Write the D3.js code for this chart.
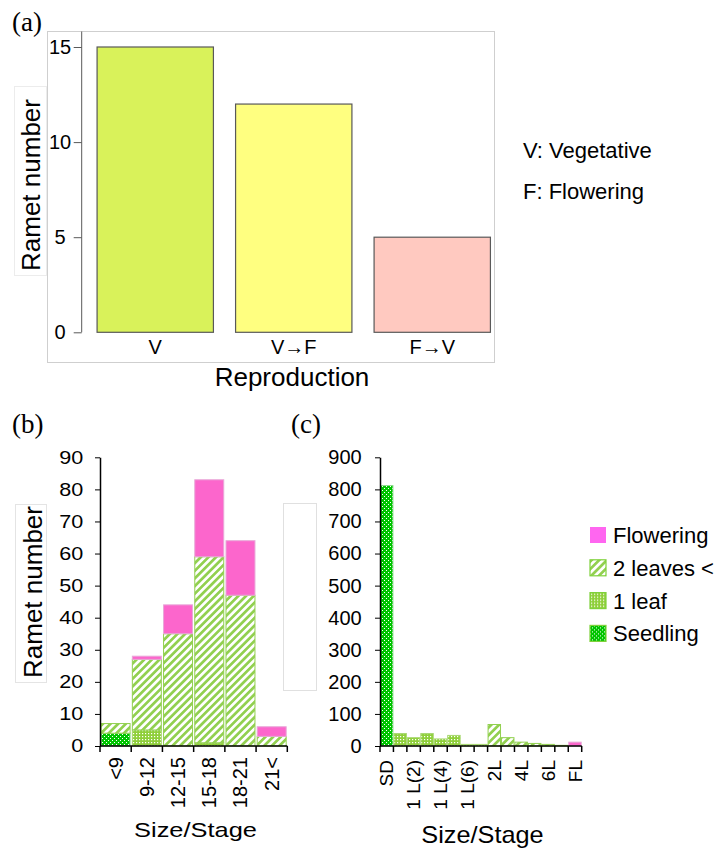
<!DOCTYPE html>
<html>
<head>
<meta charset="utf-8">
<script src="https://cdnjs.cloudflare.com/ajax/libs/d3/7.8.5/d3.min.js"></script>
<style>
	body { margin: 0; background: #fff; }
	text { font-family: 'Liberation Sans', Arial, sans-serif; fill: #000; }
	.tag { font-family: 'Liberation Serif', 'Times New Roman', serif; }
</style>
</head>
<body>
<svg id="fig" width="724" height="848"></svg>
<script>
// (a) reproduction transitions
const reproCats = ['V', 'V→F', 'F→V'];
const reproValues = [15, 12, 5];
const reproColors = ['#d9f25a', '#ffff80', '#ffc9c0'];
const reproTicks = [0, 5, 10, 15];
const reproNotes = ['V: Vegetative', 'F: Flowering'];

// (b) ramets by size class
const sizeCats = ['<9', '9-12', '12-15', '15-18', '18-21', '21<'];
const sizeSeedling = [4, 0, 0, 0, 0, 0];
const sizeOneLeaf = [0, 5, 0, 1, 0, 0];
const sizeTwoLeaves = [3, 22, 35, 58, 47, 3];
const sizeFlowering = [0, 1, 9, 24, 17, 3];
const sizeTicks = [0, 10, 20, 30, 40, 50, 60, 70, 80, 90];

// (c) ramets by stage
const stageCats = ['SD', '1 L(1)', '1 L(2)', '1 L(3)', '1 L(4)', '1 L(5)', '1 L(6)', '1 L(7)',
	'2L', '3L', '4L', '5L', '6L', '7L', 'FL'];
const stageSeedling = [812, 0, 0, 0, 0, 0, 0, 0, 0, 0, 0, 0, 0, 0, 0];
const stageOneLeaf = [0, 39, 26, 39, 22, 33, 5, 5, 0, 0, 0, 0, 0, 0, 0];
const stageTwoLeaves = [0, 0, 0, 0, 0, 0, 0, 0, 67, 26, 12, 8, 5, 2, 0];
const stageFlowering = [0, 0, 0, 0, 0, 0, 0, 0, 0, 0, 0, 0, 0, 0, 12];
const stageTicks = [0, 100, 200, 300, 400, 500, 600, 700, 800, 900];

const seriesKeys = ['seedling', 'oneLeaf', 'twoLeaves', 'flowering'];
const seriesNames = ['Seedling', '1 leaf', '2 leaves <', 'Flowering'];
const seriesFill = {
	seedling: 'url(#seed)',
	oneLeaf: 'url(#leaf1)',
	twoLeaves: 'url(#hatch)',
	flowering: '#fc66cc',
};
const seriesStroke = {
	seedling: '#8fdc8f',
	oneLeaf: '#a9d873',
	twoLeaves: '#92d050',
	flowering: '#e8a8d8',
};

const svg = d3.select('#fig');
svg.append('rect').attr('width', 724).attr('height', 848).attr('fill', '#fff');

// patterns for the stage series
const defs = svg.append('defs');
const hatch = defs.append('pattern')
	.attr('id', 'hatch')
	.attr('patternUnits', 'userSpaceOnUse')
	.attr('width', 5.4).attr('height', 5.4)
	.attr('patternTransform', 'rotate(45)');
hatch.append('rect').attr('width', 5.4).attr('height', 5.4).attr('fill', '#fff');
hatch.append('rect').attr('width', 2.7).attr('height', 5.4).attr('fill', '#92d050');

const leaf1 = defs.append('pattern')
	.attr('id', 'leaf1')
	.attr('patternUnits', 'userSpaceOnUse')
	.attr('width', 3).attr('height', 3);
leaf1.append('rect').attr('width', 3).attr('height', 3).attr('fill', '#8fcf3a');
leaf1.append('rect').attr('x', 1).attr('y', 1).attr('width', 1.2).attr('height', 1.2).attr('fill', '#fff');

const seed = defs.append('pattern')
	.attr('id', 'seed')
	.attr('patternUnits', 'userSpaceOnUse')
	.attr('width', 4).attr('height', 4);
seed.append('rect').attr('width', 4).attr('height', 4).attr('fill', '#00c400');
seed.append('rect').attr('x', 0).attr('y', 0).attr('width', 1).attr('height', 1).attr('fill', '#fff');
seed.append('rect').attr('x', 2).attr('y', 2).attr('width', 1).attr('height', 1).attr('fill', '#fff');

// panel tags
[['(a)', 12, 31], ['(b)', 12, 433], ['(c)', 291, 433]].forEach(([t, x, y]) => {
	svg.append('text').attr('class', 'tag').attr('x', x).attr('y', y)
		.attr('font-size', 27).text(t);
});

// ---------- (a) ----------
function drawRepro() {
	const g = svg.append('g');

	// plot area frame and title box leftovers
	g.append('rect').attr('x', 47.5).attr('y', 31.5).attr('width', 447).attr('height', 331)
		.attr('fill', 'none').attr('stroke', '#cfcfcf');
	g.append('rect').attr('x', 14.5).attr('y', 86.5).attr('width', 32).attr('height', 189)
		.attr('fill', '#fff').attr('stroke', '#ececec');

	const x = d3.scaleBand().domain(reproCats).range([86, 501.5])
		.paddingInner(0.16).paddingOuter(0.08);
	const y = d3.scaleLinear().domain([0, 15]).range([332.3, 47]);

	g.append('g')
		.attr('transform', 'translate(81.7,0)')
		.call(d3.axisLeft(y).tickValues(reproTicks).tickSize(8).tickSizeOuter(0))
		.call((ax) => ax.select('.domain').remove())
		.call((ax) => ax.selectAll('line').attr('stroke', '#595959'))
		.call((ax) => ax.selectAll('text')
			.attr('x', -21.7).attr('text-anchor', 'middle')
			.attr('font-size', 20).attr('font-family', null));
	g.append('line').attr('x1', 81.7).attr('x2', 81.7).attr('y1', 31.5).attr('y2', y(0))
		.attr('stroke', '#595959');

	g.selectAll('.repro-bar')
		.data(reproCats)
		.join('rect')
		.attr('class', 'repro-bar')
		.attr('x', (d) => x(d))
		.attr('width', x.bandwidth())
		.attr('y', (d, i) => y(reproValues[i]))
		.attr('height', (d, i) => y(0) - y(reproValues[i]))
		.attr('fill', (d, i) => reproColors[i])
		.attr('stroke', '#595959')
		.attr('stroke-width', 1.2);

	g.selectAll('.repro-label')
		.data(reproCats)
		.join('text')
		.attr('class', 'repro-label')
		.attr('x', (d) => x(d) + x.bandwidth() / 2)
		.attr('y', 354)
		.attr('text-anchor', 'middle')
		.attr('font-size', 20)
		.text((d) => d);

	g.append('text').attr('x', 292).attr('y', 386).attr('text-anchor', 'middle')
		.attr('font-size', 26).text('Reproduction');
	g.append('text').attr('transform', 'translate(40,185) rotate(-90)')
		.attr('text-anchor', 'middle').attr('font-size', 26).text('Ramet number');

	g.selectAll('.note')
		.data(reproNotes)
		.join('text')
		.attr('class', 'note')
		.attr('x', 523)
		.attr('y', (d, i) => 158 + i * 41)
		.attr('font-size', 22)
		.text((d) => d);
}

// ---------- stacked panels (b) and (c) ----------
function drawStacked(cats, series, opts) {
	const g = svg.append('g');
	const rows = cats.map((c, i) => {
		const row = { cat: c };
		seriesKeys.forEach((k) => (row[k] = series[k][i]));
		return row;
	});
	const stacked = d3.stack().keys(seriesKeys)(rows);

	const x = d3.scaleBand().domain(cats).range(opts.xRange)
		.paddingInner(opts.padIn).paddingOuter(opts.padOut);
	const y = d3.scaleLinear().domain(opts.yDomain).range([746, 457.3]);

	g.selectAll('.layer')
		.data(stacked)
		.join('g')
		.attr('class', 'layer')
		.attr('fill', (s) => seriesFill[s.key])
		.attr('stroke', (s) => seriesStroke[s.key])
		.selectAll('rect')
		.data((s) => s.filter((d) => d[1] - d[0] > 0))
		.join('rect')
		.attr('x', (d) => x(d.data.cat) + 0.5)
		.attr('width', x.bandwidth() - 1)
		.attr('y', (d) => y(d[1]))
		.attr('height', (d) => y(d[0]) - y(d[1]));

	// y axis
	g.append('g')
		.attr('transform', `translate(${opts.xRange[0]},0)`)
		.call(d3.axisLeft(y).tickValues(opts.ticks).tickSize(5).tickSizeOuter(0))
		.call((ax) => ax.select('.domain').attr('stroke-width', 1.5))
		.call((ax) => ax.selectAll('text')
			.attr('x', 0)
			.attr('transform', `translate(${opts.labelGap},0) scale(${opts.tickStretch},1)`)
			.attr('font-size', opts.tickSize).attr('font-family', null));

	// x axis with ticks on category boundaries
	const x0 = opts.xRange[0];
	const bounds = d3.range(cats.length + 1).map((i) => x0 + i * x.step());
	g.append('line').attr('x1', x0).attr('x2', bounds[bounds.length - 1])
		.attr('y1', 746).attr('y2', 746).attr('stroke', '#000').attr('stroke-width', 1.5);
	g.selectAll('.xtick')
		.data(bounds)
		.join('line')
		.attr('class', 'xtick')
		.attr('x1', (d) => d).attr('x2', (d) => d)
		.attr('y1', 746).attr('y2', 752)
		.attr('stroke', '#000').attr('stroke-width', 1.5);

	g.selectAll('.xlabel')
		.data(cats.filter((c, i) => i % opts.labelEvery === 0))
		.join('text')
		.attr('class', 'xlabel')
		.attr('transform', (d) => `translate(${x(d) + x.bandwidth() / 2},${opts.labelTop}) rotate(-90)`)
		.attr('dy', '0.35em')
		.attr('text-anchor', 'end')
		.attr('font-size', opts.catSize)
		.text((d) => d);

	g.append('text')
		.attr('transform', `translate(${opts.titlePos[0]},${opts.titlePos[1]}) scale(${opts.titleStretch},1)`)
		.attr('text-anchor', 'middle')
		.attr('font-size', opts.titleSize)
		.text('Size/Stage');

	return g;
}

drawRepro();

// faint leftover boxes between (b) and (c)
svg.append('rect').attr('x', 15.5).attr('y', 504.5).attr('width', 31).attr('height', 178)
	.attr('fill', 'none').attr('stroke', '#e4e4e4');
svg.append('rect').attr('x', 283.5).attr('y', 503.5).attr('width', 33).attr('height', 187)
	.attr('fill', 'none').attr('stroke', '#e0e0e0');

drawStacked(sizeCats, {
	seedling: sizeSeedling,
	oneLeaf: sizeOneLeaf,
	twoLeaves: sizeTwoLeaves,
	flowering: sizeFlowering,
}, {
	xRange: [100, 287.3],
	padIn: 0.04,
	padOut: 0.02,
	yDomain: [0, 90],
	ticks: sizeTicks,
	labelGap: -16.7,
	tickStretch: 1.2,
	tickSize: 18,
	labelEvery: 1,
	labelTop: 757,
	catSize: 20,
	titlePos: [195.5, 837],
	titleStretch: 1.24,
	titleSize: 20.5,
});
svg.append('text').attr('transform', 'translate(42,592) rotate(-90)')
	.attr('text-anchor', 'middle').attr('font-size', 26).text('Ramet number');

drawStacked(stageCats, {
	seedling: stageSeedling,
	oneLeaf: stageOneLeaf,
	twoLeaves: stageTwoLeaves,
	flowering: stageFlowering,
}, {
	xRange: [380, 581.7],
	padIn: 0,
	padOut: 0,
	yDomain: [0, 900],
	ticks: stageTicks,
	labelGap: -18.3,
	tickStretch: 1,
	tickSize: 20,
	labelEvery: 2,
	labelTop: 760,
	catSize: 19,
	titlePos: [482.5, 843],
	titleStretch: 1.1,
	titleSize: 23,
});

// legend for (b)/(c)
const legendOrder = seriesKeys.slice().reverse();
const legend = svg.append('g').attr('transform', 'translate(590,527)');
const item = legend.selectAll('.item')
	.data(legendOrder)
	.join('g')
	.attr('class', 'item')
	.attr('transform', (d, i) => `translate(0,${i * 32.8})`);
item.append('rect')
	.attr('width', 16).attr('height', 16)
	.attr('fill', (d) => (d === 'flowering' ? '#ff66f0' : seriesFill[d]))
	.attr('stroke', (d) => (d === 'flowering' ? 'none' : '#7fd13b'))
	.attr('stroke-width', 1.2);
item.append('text')
	.attr('x', 23).attr('y', 16)
	.attr('font-size', 22)
	.text((d) => seriesNames[seriesKeys.indexOf(d)]);
</script>
</body>
</html>
